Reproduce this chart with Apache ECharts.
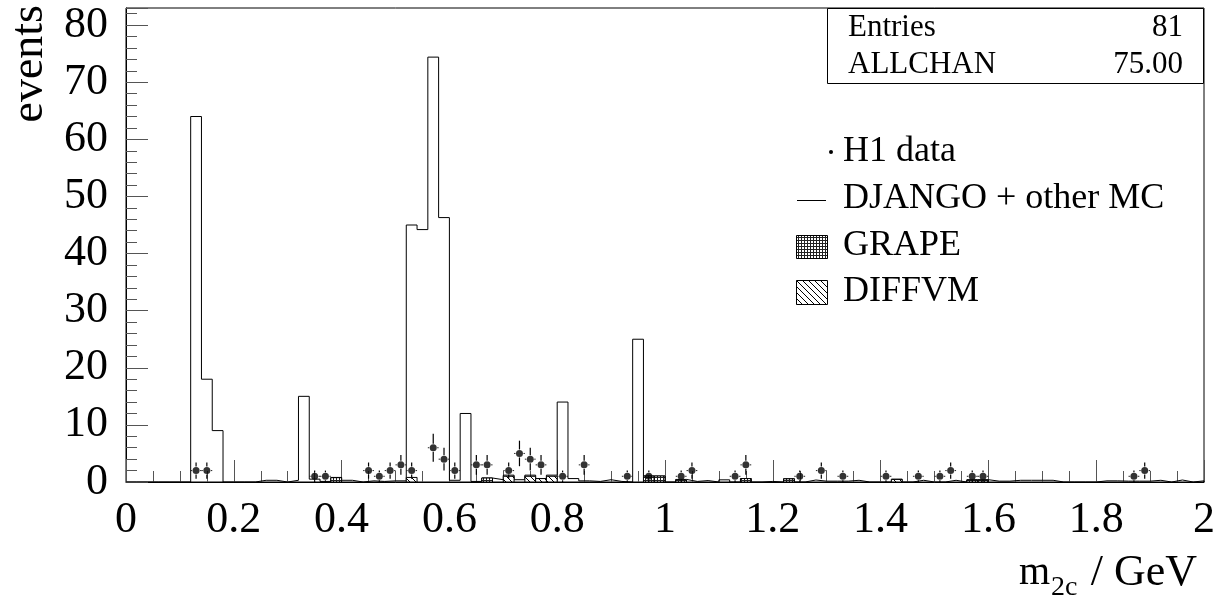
<!DOCTYPE html>
<html>
<head>
<meta charset="utf-8">
<script src="https://cdn.jsdelivr.net/npm/echarts@6/dist/echarts.min.js"></script>
<style>
  html, body { margin: 0; padding: 0; background: #fff; }
  #main { width: 1227px; height: 602px; }
</style>
</head>
<body>
<div id="main"></div>
<script>
// bins of 0.02 GeV from 0 to 2
var binWidth = 0.02;

// DJANGO + other MC (total), one value per bin
var mcTotal = [
    0, 0, 0, 0, 0, 0, 64, 18, 9, 0,
    0, 0, 0.3, 0.3, 0, 0.3, 15, 0.5, 0.1, 0.8,
    0.3, 0, 0.2, 0.1, 0.2, 0.2, 45, 44.2, 74.4, 46.3,
    0.3, 12, 0.1, 0.7, 0.4, 1.2, 0.4, 1.2, 0.6, 1.2,
    14, 0.6, 0.2, 0.1, 0.4, 0.1, 0, 25, 1.05, 1.05,
    0, 0.45, 0.1, 0.25, 0, 0.38, 0, 0.6, 0, 0.1,
    0, 0.58, 0, 0.35, 0.15, 0.15, 0.15, 0.3, 0, 0,
    0, 0.5, 0, 0.3, 0, 0, 0.3, 0, 0.4, 0.4,
    0.15, 0.15, 0.3, 0.3, 0.3, 0.3, 0, 0, 0, 0,
    0.2, 0.2, 0.15, 0.15, 0.15, 0.3, 0, 0.35, 0, 0.2
];

// GRAPE contribution: [bin index, value]
var grapeBins = [
    [19, 0.76], [33, 0.7], [48, 1.05], [49, 1.05], [51, 0.4],
    [57, 0.6], [61, 0.55], [78, 0.35], [79, 0.35]
];

// DIFFVM contribution: [bin index, value]
var diffvmBins = [
    [26, 0.8], [35, 1.0], [37, 1.0], [38, 0.6], [39, 1.0], [71, 0.45]
];

// H1 data: bin centre and number of events
var dataX = [0.13, 0.15, 0.35, 0.37, 0.45, 0.47, 0.49, 0.51, 0.53, 0.57,
             0.59, 0.61, 0.65, 0.67, 0.71, 0.73, 0.75, 0.77, 0.81, 0.85,
             0.93, 0.97, 1.03, 1.05, 1.13, 1.15, 1.25, 1.29, 1.33, 1.41,
             1.47, 1.51, 1.53, 1.57, 1.59, 1.87, 1.89];
var dataN = [2, 2, 1, 1, 2, 1, 2, 3, 2, 6,
             4, 2, 3, 3, 2, 5, 4, 3, 1, 3,
             1, 1, 1, 2, 1, 3, 1, 2, 1, 1,
             1, 1, 2, 1, 1, 1, 2];

var statLabels = ['Entries', 'ALLCHAN'];
var statValues = ['81', '75.00'];

var serif = '"Liberation Serif", "DejaVu Serif", serif';

// hatch patterns
function gridPattern() {
    var c = document.createElement('canvas');
    c.width = 3; c.height = 3;
    var ctx = c.getContext('2d');
    ctx.fillStyle = '#fff';
    ctx.fillRect(0, 0, 3, 3);
    ctx.fillStyle = '#222';
    ctx.fillRect(0, 0, 3, 1);
    ctx.fillRect(0, 0, 1, 3);
    return c;
}
function diagPattern() {
    var c = document.createElement('canvas');
    c.width = 6; c.height = 6;
    var ctx = c.getContext('2d');
    ctx.fillStyle = '#fff';
    ctx.fillRect(0, 0, 6, 6);
    ctx.strokeStyle = '#000';
    ctx.lineWidth = 1;
    ctx.beginPath();
    ctx.moveTo(-1, -1); ctx.lineTo(7, 7);
    ctx.moveTo(-1, 5); ctx.lineTo(1, 7);
    ctx.moveTo(5, -1); ctx.lineTo(7, 1);
    ctx.stroke();
    return c;
}
var gridImg = gridPattern();
var diagImg = diagPattern();

// step outline points for the total MC
var stepPts = [[0, 0]];
for (var i = 0; i < mcTotal.length; i++) {
    stepPts.push([i * binWidth, mcTotal[i]]);
}
stepPts.push([mcTotal.length * binWidth, mcTotal[mcTotal.length - 1]]);
stepPts.push([mcTotal.length * binWidth, 0]);

var grapeData = grapeBins.map(function (b) { return [b[0] * binWidth, (b[0] + 1) * binWidth, b[1]]; });
var diffData = diffvmBins.map(function (b) { return [b[0] * binWidth, (b[0] + 1) * binWidth, b[1]]; });
var pointData = dataX.map(function (x, k) { return [x, dataN[k], Math.sqrt(dataN[k])]; });

function hatchRenderer(img) {
    return function (params, api) {
        var a = api.coord([api.value(0), 0]);
        var b = api.coord([api.value(1), api.value(2)]);
        return {
            type: 'rect',
            shape: { x: a[0], y: b[1], width: b[0] - a[0], height: a[1] - b[1] },
            style: { fill: { image: img, repeat: 'repeat' }, stroke: '#000', lineWidth: 1 }
        };
    };
}

function errRenderer(params, api) {
    var x = api.value(0), y = api.value(1), e = api.value(2);
    var c = api.coord([x, y]);
    var top = api.coord([x, y + e]);
    var bot = api.coord([x, Math.max(0, y - e)]);
    var l = api.coord([x - binWidth / 2, y]);
    var r = api.coord([x + binWidth / 2, y]);
    var gap = 4;
    var st = { stroke: '#000', lineWidth: 1.2 };
    var dash = { stroke: '#222', lineWidth: 1, lineDash: [3, 2] };
    return {
        type: 'group',
        children: [
            { type: 'line', shape: { x1: c[0], y1: top[1], x2: c[0], y2: c[1] - gap }, style: st },
            { type: 'line', shape: { x1: c[0], y1: c[1] + gap, x2: c[0], y2: bot[1] }, style: st },
            { type: 'line', shape: { x1: l[0], y1: c[1], x2: c[0] - gap, y2: c[1] }, style: dash },
            { type: 'line', shape: { x1: c[0] + gap, y1: c[1], x2: r[0], y2: c[1] }, style: dash }
        ]
    };
}

var chart = echarts.init(document.getElementById('main'));

var legendX = 843;
var option = {
    backgroundColor: '#fff',
    animation: false,
    grid: {
        left: 126, right: 23, top: 8, bottom: 120,
        show: true, borderColor: '#000', borderWidth: 1, backgroundColor: '#fff'
    },
    xAxis: {
        type: 'value', min: 0, max: 2, interval: 0.2,
        axisLine: { lineStyle: { color: '#000', width: 1 } },
        axisTick: { inside: true, length: 22, lineStyle: { color: '#555' } },
        minorTick: { show: true, splitNumber: 4, length: 11, lineStyle: { color: '#555' } },
        splitLine: { show: false },
        axisLabel: { color: '#000', fontFamily: serif, fontSize: 44, margin: 16 }
    },
    yAxis: {
        type: 'value', min: 0, max: 83, interval: 10,
        axisLine: { show: true, lineStyle: { color: '#000', width: 1 } },
        axisTick: { show: true, inside: true, length: 22, lineStyle: { color: '#555' } },
        minorTick: { show: true, splitNumber: 5, length: 11, lineStyle: { color: '#555' } },
        splitLine: { show: false },
        axisLabel: { color: '#000', fontFamily: serif, fontSize: 44, margin: 18, showMaxLabel: false }
    },
    series: [
        {
            name: 'DJANGO + other MC',
            type: 'line',
            step: 'end',
            data: stepPts,
            showSymbol: false,
            lineStyle: { color: '#000', width: 1 },
            z: 3
        },
        {
            name: 'GRAPE',
            type: 'custom',
            renderItem: hatchRenderer(gridImg),
            data: grapeData,
            z: 4
        },
        {
            name: 'DIFFVM',
            type: 'custom',
            renderItem: hatchRenderer(diagImg),
            data: diffData,
            z: 4
        },
        {
            name: 'H1 data err',
            type: 'custom',
            renderItem: errRenderer,
            data: pointData,
            z: 5
        },
        {
            name: 'H1 data',
            type: 'scatter',
            data: pointData.map(function (p) { return [p[0], p[1]]; }),
            symbol: 'circle',
            symbolSize: 7,
            itemStyle: { color: '#000' },
            z: 6
        }
    ],
    graphic: [
        // y axis title
        {
            type: 'text', x: 30, y: 5, rotation: Math.PI / 2,
            style: { text: 'events', font: '46px ' + serif, fill: '#000', textAlign: 'right', textVerticalAlign: 'middle' }
        },
        // x axis title
        {
            type: 'text', x: 1019, y: 573,
            style: { text: 'm', font: '40px ' + serif, fill: '#000', textAlign: 'left', textVerticalAlign: 'middle' }
        },
        {
            type: 'text', x: 1051, y: 588,
            style: { text: '2c', font: '28px ' + serif, fill: '#000', textAlign: 'left', textVerticalAlign: 'middle' }
        },
        {
            type: 'text', x: 1197, y: 573,
            style: { text: '/ GeV', font: '44px ' + serif, fill: '#000', textAlign: 'right', textVerticalAlign: 'middle' }
        },
        // statistics box
        {
            type: 'rect', shape: { x: 827.5, y: 8.5, width: 376, height: 75 },
            style: { fill: '#fff', stroke: '#000', lineWidth: 1 }, z: 10
        },
        {
            type: 'text', x: 848, y: 28, z: 11,
            style: { text: statLabels[0], font: '31px ' + serif, fill: '#000', textAlign: 'left', textVerticalAlign: 'middle' }
        },
        {
            type: 'text', x: 1183, y: 28, z: 11,
            style: { text: statValues[0], font: '31px ' + serif, fill: '#000', textAlign: 'right', textVerticalAlign: 'middle' }
        },
        {
            type: 'text', x: 848, y: 65, z: 11,
            style: { text: statLabels[1], font: '31px ' + serif, fill: '#000', textAlign: 'left', textVerticalAlign: 'middle' }
        },
        {
            type: 'text', x: 1183, y: 65, z: 11,
            style: { text: statValues[1], font: '31px ' + serif, fill: '#000', textAlign: 'right', textVerticalAlign: 'middle' }
        },
        // legend
        { type: 'circle', shape: { cx: 831, cy: 152, r: 2 }, style: { fill: '#000' }, z: 10 },
        {
            type: 'text', x: legendX, y: 152, z: 10,
            style: { text: 'H1 data', font: '36px ' + serif, fill: '#000', textAlign: 'left', textVerticalAlign: 'middle' }
        },
        { type: 'line', shape: { x1: 797, y1: 200.5, x2: 826, y2: 200.5 }, style: { stroke: '#000', lineWidth: 1 }, z: 10 },
        {
            type: 'text', x: legendX, y: 199, z: 10,
            style: { text: 'DJANGO + other MC', font: '36px ' + serif, fill: '#000', textAlign: 'left', textVerticalAlign: 'middle' }
        },
        {
            type: 'rect', shape: { x: 796.5, y: 235.5, width: 31, height: 23 },
            style: { fill: { image: gridImg, repeat: 'repeat' }, stroke: '#000', lineWidth: 1 }, z: 10
        },
        {
            type: 'text', x: legendX, y: 246, z: 10,
            style: { text: 'GRAPE', font: '36px ' + serif, fill: '#000', textAlign: 'left', textVerticalAlign: 'middle' }
        },
        {
            type: 'rect', shape: { x: 796.5, y: 280.5, width: 31, height: 24 },
            style: { fill: { image: diagImg, repeat: 'repeat' }, stroke: '#000', lineWidth: 1 }, z: 10
        },
        {
            type: 'text', x: legendX, y: 292, z: 10,
            style: { text: 'DIFFVM', font: '36px ' + serif, fill: '#000', textAlign: 'left', textVerticalAlign: 'middle' }
        }
    ]
};

chart.setOption(option);
</script>
</body>
</html>
